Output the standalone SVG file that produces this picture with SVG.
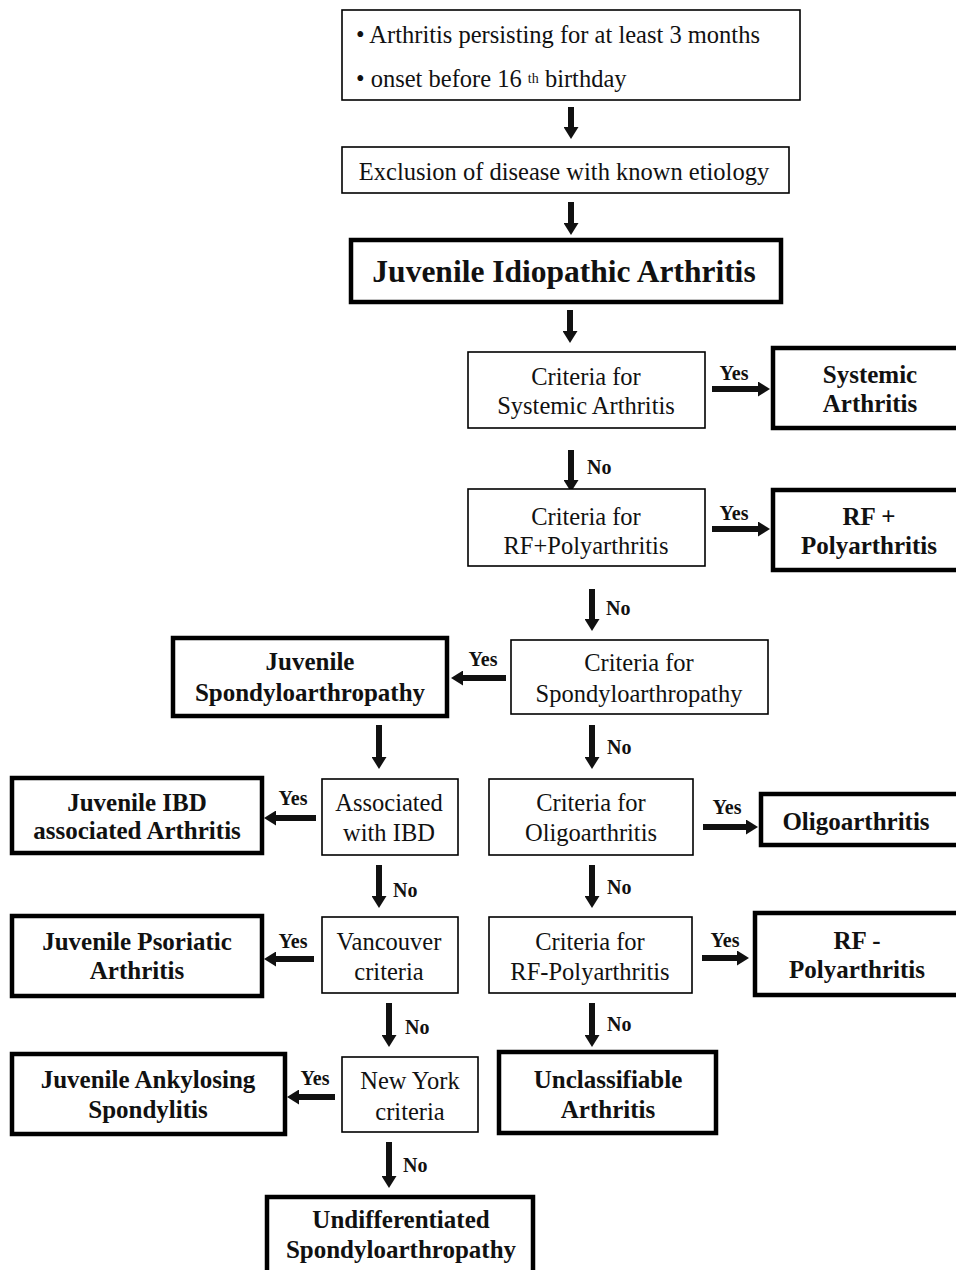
<svg xmlns="http://www.w3.org/2000/svg" width="956" height="1270" viewBox="0 0 956 1270">
<style>
.bg{fill:#fff}
.thin{fill:#fff;stroke:#000;stroke-width:1.6}
.thick{fill:#fff;stroke:#000;stroke-width:4.5}
.t{font-family:"Liberation Serif","Times New Roman",serif;font-size:24.5px;fill:#111;text-anchor:middle}
.ts{font-family:"Liberation Serif","Times New Roman",serif;font-size:24.5px;fill:#111;text-anchor:start}
.b{font-family:"Liberation Serif","Times New Roman",serif;font-size:25px;font-weight:bold;fill:#111;text-anchor:middle}
.big{font-family:"Liberation Serif","Times New Roman",serif;font-size:31.5px;font-weight:bold;fill:#111;text-anchor:middle}
.lbl{font-family:"Liberation Serif","Times New Roman",serif;font-size:20px;font-weight:bold;fill:#111}
.ar{stroke:#111;stroke-width:6;fill:none;marker-end:url(#ah)}
</style>
<defs>
<marker id="ah" markerUnits="userSpaceOnUse" markerWidth="12" markerHeight="15" viewBox="0 0 12 15" refX="0" refY="7.5" orient="auto">
<path d="M0,0 L12,7.5 L0,15 z" fill="#111"/>
</marker>
</defs>
<rect class="bg" x="0" y="0" width="956" height="1270"/>

<g id="connectors">
<line class="ar" x1="571" y1="107" x2="571" y2="127"/>
<line class="ar" x1="571" y1="202" x2="571" y2="223"/>
<line class="ar" x1="570" y1="310" x2="570" y2="331"/>
<line class="ar" x1="571" y1="450" x2="571" y2="480"/>
<line class="ar" x1="592" y1="589" x2="592" y2="619"/>
<line class="ar" x1="379" y1="725" x2="379" y2="757"/>
<line class="ar" x1="592" y1="725" x2="592" y2="757"/>
<line class="ar" x1="379" y1="865" x2="379" y2="896"/>
<line class="ar" x1="592" y1="865" x2="592" y2="896"/>
<line class="ar" x1="389" y1="1003" x2="389" y2="1035"/>
<line class="ar" x1="592" y1="1003" x2="592" y2="1035"/>
<line class="ar" x1="389" y1="1142" x2="389" y2="1176"/>
<line class="ar" x1="712" y1="389" x2="758" y2="389"/>
<line class="ar" x1="712" y1="529" x2="758" y2="529"/>
<line class="ar" x1="506" y1="678" x2="463" y2="678"/>
<line class="ar" x1="316" y1="818" x2="276" y2="818"/>
<line class="ar" x1="703" y1="827" x2="746" y2="827"/>
<line class="ar" x1="314" y1="959" x2="276" y2="959"/>
<line class="ar" x1="702" y1="958" x2="737" y2="958"/>
<line class="ar" x1="335" y1="1097" x2="299" y2="1097"/>
<text class="lbl" x="587" y="474">No</text>
<text class="lbl" x="606" y="615">No</text>
<text class="lbl" x="607" y="754">No</text>
<text class="lbl" x="393" y="897">No</text>
<text class="lbl" x="607" y="894">No</text>
<text class="lbl" x="405" y="1034">No</text>
<text class="lbl" x="607" y="1031">No</text>
<text class="lbl" x="403" y="1172">No</text>
<text class="lbl" x="734" y="380" text-anchor="middle">Yes</text>
<text class="lbl" x="734" y="520" text-anchor="middle">Yes</text>
<text class="lbl" x="483" y="666" text-anchor="middle">Yes</text>
<text class="lbl" x="293" y="805" text-anchor="middle">Yes</text>
<text class="lbl" x="727" y="814" text-anchor="middle">Yes</text>
<text class="lbl" x="293" y="948" text-anchor="middle">Yes</text>
<text class="lbl" x="725" y="947" text-anchor="middle">Yes</text>
<text class="lbl" x="315" y="1085" text-anchor="middle">Yes</text>
</g>

<g id="n-criteria-general">
<rect class="thin" x="342" y="10" width="458" height="90"/>
<text class="ts" x="356" y="43">• Arthritis persisting for at least 3 months</text>
<text class="ts" x="356" y="87">• onset before 16 <tspan font-size="14" dy="-4">th</tspan><tspan dy="4"> birthday</tspan></text>
</g>
<g id="n-exclusion">
<rect class="thin" x="342" y="147" width="447" height="46"/>
<text class="t" x="564" y="180">Exclusion of disease with known etiology</text>
</g>
<g id="n-jia">
<rect class="thick" x="351" y="240" width="430" height="62"/>
<text class="big" x="564" y="282">Juvenile Idiopathic Arthritis</text>
</g>
<g id="n-crit-systemic">
<rect class="thin" x="468" y="352" width="237" height="76"/>
<text class="t" x="586" y="385">Criteria for</text>
<text class="t" x="586" y="414">Systemic Arthritis</text>
</g>
<g id="n-systemic">
<rect class="thick" x="773" y="348" width="200" height="80"/>
<text class="b" x="870" y="383">Systemic</text>
<text class="b" x="870" y="412">Arthritis</text>
</g>
<g id="n-crit-rfpos">
<rect class="thin" x="468" y="489" width="237" height="77"/>
<text class="t" x="586" y="525">Criteria for</text>
<text class="t" x="586" y="554">RF+Polyarthritis</text>
</g>
<g id="n-rfpos">
<rect class="thick" x="773" y="490" width="200" height="80"/>
<text class="b" x="869" y="525">RF +</text>
<text class="b" x="869" y="554">Polyarthritis</text>
</g>
<g id="n-crit-spondylo">
<rect class="thin" x="511" y="640" width="257" height="74"/>
<text class="t" x="639" y="671">Criteria for</text>
<text class="t" x="639" y="702">Spondyloarthropathy</text>
</g>
<g id="n-juv-spondylo">
<rect class="thick" x="173" y="638" width="274" height="78"/>
<text class="b" x="310" y="670">Juvenile</text>
<text class="b" x="310" y="701">Spondyloarthropathy</text>
</g>
<g id="n-assoc-ibd">
<rect class="thin" x="322" y="779" width="136" height="76"/>
<text class="t" x="389" y="811">Associated</text>
<text class="t" x="389" y="841">with IBD</text>
</g>
<g id="n-juv-ibd">
<rect class="thick" x="12" y="778" width="250" height="75"/>
<text class="b" x="137" y="811">Juvenile IBD</text>
<text class="b" x="137" y="839">associated Arthritis</text>
</g>
<g id="n-crit-oligo">
<rect class="thin" x="489" y="779" width="204" height="76"/>
<text class="t" x="591" y="811">Criteria for</text>
<text class="t" x="591" y="841">Oligoarthritis</text>
</g>
<g id="n-oligo">
<rect class="thick" x="761" y="794" width="210" height="51"/>
<text class="b" x="856" y="830">Oligoarthritis</text>
</g>
<g id="n-vancouver">
<rect class="thin" x="322" y="917" width="136" height="76"/>
<text class="t" x="389" y="950">Vancouver</text>
<text class="t" x="389" y="980">criteria</text>
</g>
<g id="n-juv-psoriatic">
<rect class="thick" x="12" y="916" width="250" height="80"/>
<text class="b" x="137" y="950">Juvenile Psoriatic</text>
<text class="b" x="137" y="979">Arthritis</text>
</g>
<g id="n-crit-rfneg">
<rect class="thin" x="489" y="917" width="203" height="76"/>
<text class="t" x="590" y="950">Criteria for</text>
<text class="t" x="590" y="980">RF-Polyarthritis</text>
</g>
<g id="n-rfneg">
<rect class="thick" x="755" y="913" width="215" height="82"/>
<text class="b" x="857" y="949">RF -</text>
<text class="b" x="857" y="978">Polyarthritis</text>
</g>
<g id="n-newyork">
<rect class="thin" x="342" y="1057" width="136" height="75"/>
<text class="t" x="410" y="1089">New York</text>
<text class="t" x="410" y="1120">criteria</text>
</g>
<g id="n-juv-ankylosing">
<rect class="thick" x="12" y="1054" width="273" height="80"/>
<text class="b" x="148" y="1088">Juvenile Ankylosing</text>
<text class="b" x="148" y="1118">Spondylitis</text>
</g>
<g id="n-unclassifiable">
<rect class="thick" x="499" y="1052" width="217" height="81"/>
<text class="b" x="608" y="1088">Unclassifiable</text>
<text class="b" x="608" y="1118">Arthritis</text>
</g>
<g id="n-undiff">
<rect class="thick" x="267" y="1197" width="266" height="90"/>
<text class="b" x="401" y="1228">Undifferentiated</text>
<text class="b" x="401" y="1258">Spondyloarthropathy</text>
</g>
</svg>
